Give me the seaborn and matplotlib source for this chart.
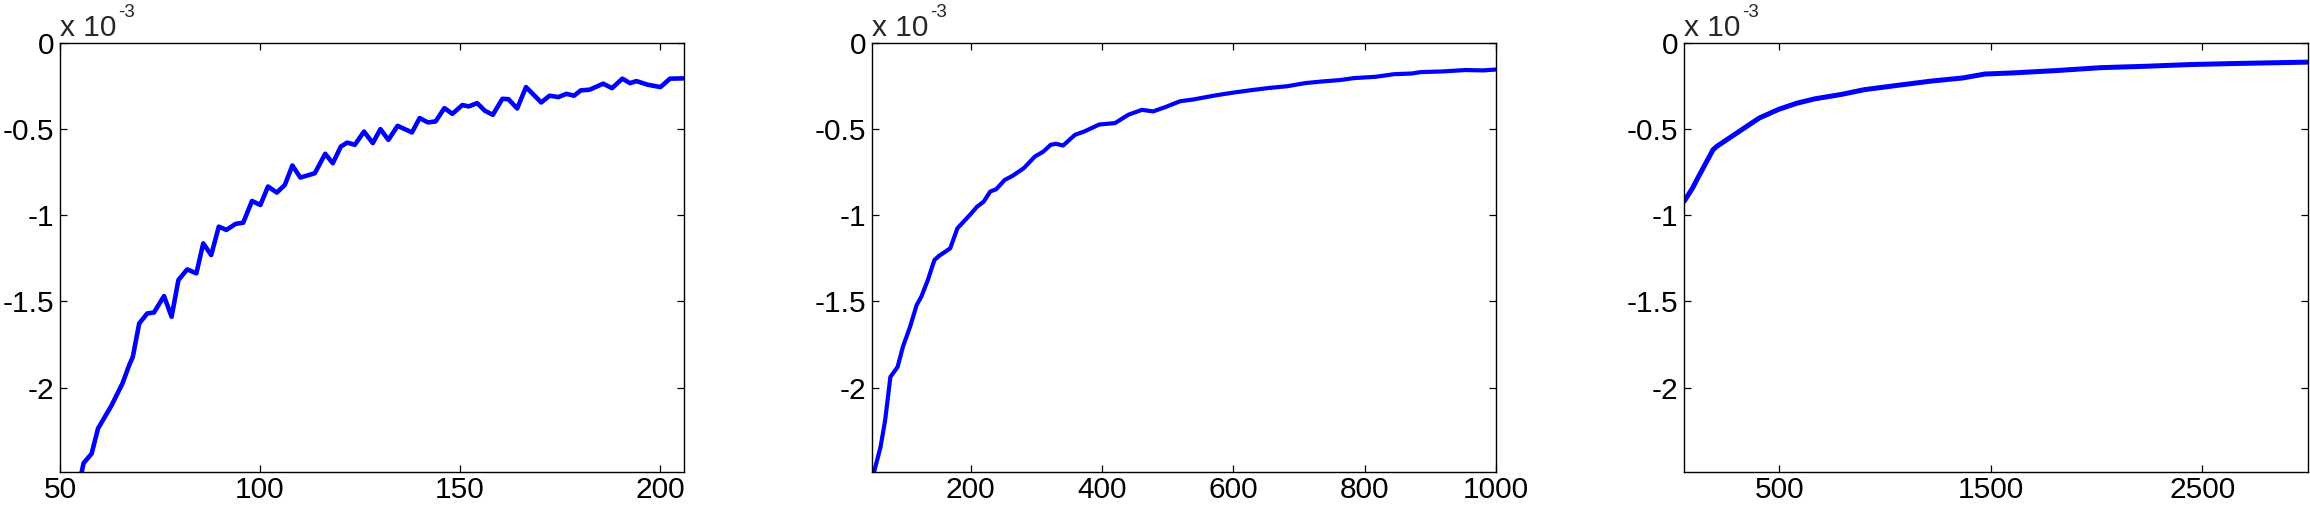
import numpy as np
import pandas as pd
import matplotlib
matplotlib.use("Agg")
import matplotlib.pyplot as plt
import seaborn as sns

# ---- data (y values in units of 1e-3) ----
x1 = [55.4, 55.9, 57.9, 59.5, 62.9, 65.6, 67.3, 68.2, 69.8, 71.8, 73.5, 76.0, 77.9, 79.6,
      81.8, 84.1, 85.8, 87.8, 89.7, 91.6, 93.9, 95.8, 98.0, 100.1, 102.0, 104.2, 106.2,
      108.1, 110.1, 113.7, 116.3, 118.2, 120.2, 121.8, 123.7, 126.0, 128.2, 130.1, 132.1,
      134.4, 138.0, 139.9, 142.0, 143.9, 146.1, 148.1, 150.6, 152.2, 154.3, 156.2, 158.2,
      160.6, 162.1, 164.3, 166.5, 168.4, 170.3, 172.4, 174.6, 176.6, 178.5, 180.2, 182.4,
      185.8, 188.0, 190.6, 192.5, 194.1, 196.9, 200.1, 202.5, 206.4]
y1 = [-2.492, -2.438, -2.384, -2.238, -2.103, -1.977, -1.870, -1.822, -1.628, -1.570,
      -1.564, -1.469, -1.589, -1.376, -1.314, -1.337, -1.163, -1.231, -1.066, -1.085,
      -1.050, -1.043, -0.917, -0.940, -0.833, -0.868, -0.824, -0.711, -0.781, -0.756,
      -0.643, -0.698, -0.601, -0.578, -0.591, -0.514, -0.581, -0.500, -0.562, -0.481,
      -0.519, -0.436, -0.461, -0.455, -0.378, -0.411, -0.360, -0.368, -0.349, -0.393,
      -0.417, -0.324, -0.326, -0.380, -0.256, -0.300, -0.345, -0.306, -0.314, -0.295,
      -0.306, -0.275, -0.271, -0.236, -0.262, -0.207, -0.233, -0.221, -0.242, -0.256,
      -0.207, -0.205]

x2 = [53, 63, 70, 78, 89, 97, 108, 118, 125, 135, 145, 152, 169, 180, 199, 210, 220,
      230, 239, 252, 264, 281, 298, 311, 322, 330, 341, 359, 373, 396, 420, 440, 461,
      478, 498, 519, 539, 573, 600, 627, 654, 682, 709, 736, 763, 783, 817, 845, 872,
      885, 919, 953, 980, 1000]
y2 = [-2.492, -2.345, -2.190, -1.938, -1.880, -1.764, -1.647, -1.521, -1.473, -1.376,
      -1.260, -1.236, -1.192, -1.076, -0.998, -0.950, -0.921, -0.862, -0.849, -0.795,
      -0.771, -0.727, -0.659, -0.630, -0.591, -0.585, -0.595, -0.533, -0.514, -0.473,
      -0.465, -0.417, -0.388, -0.397, -0.370, -0.338, -0.328, -0.304, -0.288, -0.274,
      -0.261, -0.251, -0.233, -0.223, -0.215, -0.204, -0.196, -0.181, -0.177, -0.169,
      -0.165, -0.157, -0.159, -0.154]

x3 = [50, 90, 119, 187, 204, 310, 405, 500, 585, 669, 796, 902, 1071, 1219, 1367, 1473,
      1599, 1811, 2022, 2234, 2445, 2656, 2868, 3000]
y3 = [-0.920, -0.843, -0.775, -0.620, -0.601, -0.514, -0.436, -0.384, -0.349, -0.324,
      -0.298, -0.271, -0.244, -0.221, -0.203, -0.180, -0.174, -0.160, -0.143, -0.135,
      -0.125, -0.119, -0.114, -0.111]

xlims = [(50, 206), (50, 1000), (50, 3000)]
xticks = [[50, 100, 150, 200], [200, 400, 600, 800, 1000], [500, 1500, 2500]]
yticks = [0, -0.5, -1, -1.5, -2]
ytick_labels = ["0", "-0.5", "-1", "-1.5", "-2"]
offset_label = "x 10"
offset_exp = "-3"

# ---- style ----
sns.set_style("white")
plt.rcParams["font.family"] = ["Liberation Sans", "DejaVu Sans"]

W, H = 2310, 505
fig = plt.figure(figsize=(W / 100, H / 100), dpi=100)
lefts = [60, 872, 1684]
aw = 624
bottom_px, top_px = 472, 43

series = [(x1, y1), (x2, y2), (x3, y3)]
lws = [3.3, 3.0, 3.6]
for i, (xs, ys) in enumerate(series):
    ax = fig.add_axes([lefts[i] / W, 1 - bottom_px / H, aw / W, (bottom_px - top_px) / H])
    df = pd.DataFrame({"x": xs, "y": ys})
    sns.lineplot(data=df, x="x", y="y", ax=ax, color="#0000ff", linewidth=lws[i],
                 estimator=None, sort=False)
    ax.set_xlim(*xlims[i])
    ax.set_ylim(-2.49, 0)
    ax.set_xticks(xticks[i])
    ax.set_xticklabels([str(t) for t in xticks[i]])
    ax.set_yticks(yticks)
    ax.set_yticklabels(ytick_labels)
    ax.set_xlabel("")
    ax.set_ylabel("")
    for s in ax.spines.values():
        s.set_visible(True)
        s.set_color("black")
        s.set_linewidth(1.0)
    ax.tick_params(axis="both", direction="in", length=5.2, width=0.9, color="black",
                   labelsize=21.5, labelcolor="black", top=True, right=True,
                   bottom=True, left=True)
    ax.tick_params(axis="x", pad=3)
    ax.tick_params(axis="y", pad=4)
    ax.annotate(offset_label, xy=(0, 1), xycoords="axes fraction", xytext=(0, 5),
                textcoords="offset points", ha="left", va="baseline", fontsize=21.5)
    ax.annotate(offset_exp, xy=(0, 1), xycoords="axes fraction", xytext=(41.5, 18.5),
                textcoords="offset points", ha="left", va="baseline", fontsize=13.5)

fig.savefig("out.png", dpi=100, facecolor="white")
